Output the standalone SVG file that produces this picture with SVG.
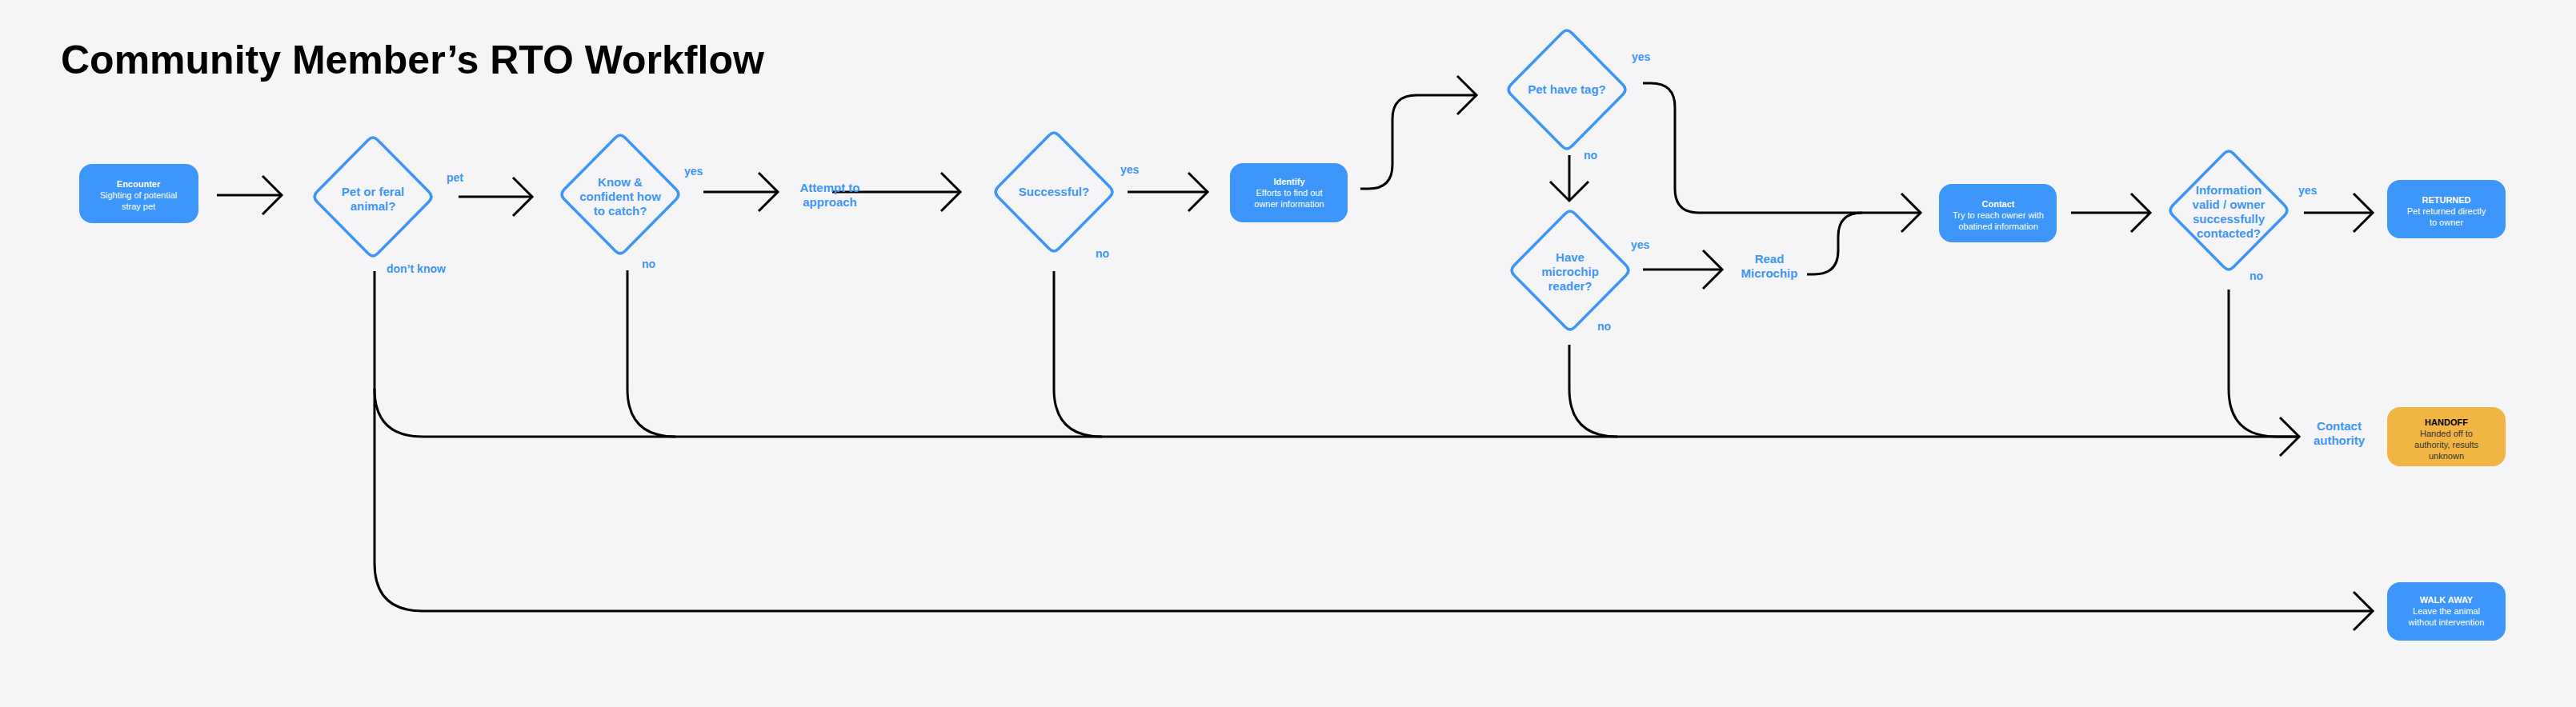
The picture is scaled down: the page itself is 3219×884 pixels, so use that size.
<svg xmlns="http://www.w3.org/2000/svg" width="3219" height="884" viewBox="0 0 3219 884">
<style>
.bg{fill:#f5f5f7}
.dia{fill:none;stroke:#3d95f7;stroke-width:3.5}
.box{fill:#3d96fa}
.hand{fill:#f0b542}
.c{fill:none;stroke:#000;stroke-width:3}
.dt{font-family:"Liberation Sans",Arial,sans-serif;font-weight:bold;font-size:15px;fill:#3d95f7;text-anchor:middle}
.lb{font-family:"Liberation Sans",Arial,sans-serif;font-weight:bold;font-size:14px;fill:#3d95f7}
.bt{font-family:"Liberation Sans",Arial,sans-serif;font-weight:bold;font-size:11px;fill:#fff;text-anchor:middle}
.bd{font-family:"Liberation Sans",Arial,sans-serif;font-size:11px;fill:#fff;text-anchor:middle}
.title{font-family:"Liberation Sans",Arial,sans-serif;font-weight:bold;font-size:50px;fill:#000}
</style>
<defs>
<path id="dm" d="M-6.1 -70.8 Q0 -77 6.1 -70.8 L69.9 -6.2 Q76 0 69.9 6.2 L6.1 70.8 Q0 77 -6.1 70.8 L-69.9 6.2 Q-76 0 -69.9 -6.2 Z"/>
<marker id="ch" markerUnits="userSpaceOnUse" viewBox="-28 -28 32 56" refX="0" refY="0" markerWidth="32" markerHeight="56" orient="auto">
<path d="M-24 -24 L0 0 L-24 24" fill="none" stroke="#000" stroke-width="3"/>
</marker>
</defs>
<rect class="bg" x="0" y="0" width="3219" height="884"/>
<text class="title" x="76" y="92">Community Member’s RTO Workflow</text>

<g id="connectors">
<path class="c" d="M271 244 H352" marker-end="url(#ch)"/>
<path class="c" d="M573 246 H665" marker-end="url(#ch)"/>
<path class="c" d="M879 240 H972" marker-end="url(#ch)"/>
<path class="c" d="M1040 240 H1200" marker-end="url(#ch)"/>
<path class="c" d="M1409 240 H1509" marker-end="url(#ch)"/>
<path class="c" d="M1700 236 H1710 Q1740 236 1740 206 V149 Q1740 119 1770 119 H1845" marker-end="url(#ch)"/>
<path class="c" d="M1961 194 V251" marker-end="url(#ch)"/>
<path class="c" d="M2053 337 H2152" marker-end="url(#ch)"/>
<path class="c" d="M2053 104 H2063 Q2093 104 2093 134 V236 Q2093 266 2123 266 H2400" marker-end="url(#ch)"/>
<path class="c" d="M2258 343 H2267 Q2297 343 2297 313 V296 Q2297 266 2327 266"/>
<path class="c" d="M2588 266 H2687" marker-end="url(#ch)"/>
<path class="c" d="M2879 266 H2965" marker-end="url(#ch)"/>
<path class="c" d="M468 339 V486 Q468 546 528 546 H2873" marker-end="url(#ch)"/>
<path class="c" d="M2785 362 V486 Q2785 546 2845 546 H2873"/>
<path class="c" d="M784 338 V486 Q784 546 844 546"/>
<path class="c" d="M1317 339 V486 Q1317 546 1377 546"/>
<path class="c" d="M1961 431 V486 Q1961 546 2021 546"/>
<path class="c" d="M468 486 V704 Q468 764 528 764 H2965" marker-end="url(#ch)"/>
</g>

<g id="encounter"><rect class="box" x="99" y="205" width="149" height="74" rx="16"/>
<text class="bt" x="173" y="234">Encounter</text><text class="bd" x="173" y="248">Sighting of potential</text><text class="bd" x="173" y="262">stray pet</text></g>

<g id="d-pet"><use href="#dm" class="dia" transform="translate(466,246)"/>
<text class="dt" x="466" y="245">Pet or feral</text><text class="dt" x="466" y="263">animal?</text></g>
<text class="lb" x="558" y="227">pet</text>
<text class="lb" x="483" y="341">don’t know</text>

<g id="d-know"><use href="#dm" class="dia" transform="translate(775,243)"/>
<text class="dt" x="775" y="233">Know &amp;</text><text class="dt" x="775" y="251">confident how</text><text class="dt" x="775" y="269">to catch?</text></g>
<text class="lb" x="855" y="219">yes</text>
<text class="lb" x="802" y="335">no</text>

<g id="attempt"><text class="dt" x="1037" y="240">Attempt to</text><text class="dt" x="1037" y="258">approach</text></g>

<g id="d-success"><use href="#dm" class="dia" transform="translate(1317,240)"/>
<text class="dt" x="1317" y="245">Successful?</text></g>
<text class="lb" x="1400" y="217">yes</text>
<text class="lb" x="1369" y="322">no</text>

<g id="identify"><rect class="box" x="1537" y="204" width="147" height="74" rx="16"/>
<text class="bt" x="1611" y="231">Identify</text><text class="bd" x="1611" y="245">Efforts to find out</text><text class="bd" x="1611" y="259">owner information</text></g>

<g id="d-tag"><use href="#dm" class="dia" transform="translate(1958,112)"/>
<text class="dt" x="1958" y="117">Pet have tag?</text></g>
<text class="lb" x="2039" y="76">yes</text>
<text class="lb" x="1979" y="199">no</text>

<g id="d-reader"><use href="#dm" class="dia" transform="translate(1962,338)"/>
<text class="dt" x="1962" y="327">Have</text><text class="dt" x="1962" y="345">microchip</text><text class="dt" x="1962" y="363">reader?</text></g>
<text class="lb" x="2038" y="311">yes</text>
<text class="lb" x="1996" y="413">no</text>

<g id="read"><text class="dt" x="2211" y="329">Read</text><text class="dt" x="2211" y="347">Microchip</text></g>

<g id="contact"><rect class="box" x="2423" y="230" width="147" height="73" rx="16"/>
<text class="bt" x="2497" y="259">Contact</text><text class="bd" x="2497" y="273">Try to reach owner with</text><text class="bd" x="2497" y="287">obatined information</text></g>

<g id="d-valid"><use href="#dm" class="dia" transform="translate(2785,263)"/>
<text class="dt" x="2785" y="243">Information</text><text class="dt" x="2785" y="261">valid / owner</text><text class="dt" x="2785" y="279">successfully</text><text class="dt" x="2785" y="297">contacted?</text></g>
<text class="lb" x="2872" y="243">yes</text>
<text class="lb" x="2811" y="350">no</text>

<g id="returned"><rect class="box" x="2983" y="225" width="148" height="73" rx="16"/>
<text class="bt" x="3057" y="254">RETURNED</text><text class="bd" x="3057" y="268">Pet returned directly</text><text class="bd" x="3057" y="282">to owner</text></g>

<g id="contact-authority"><text class="dt" x="2923" y="538">Contact</text><text class="dt" x="2923" y="556">authority</text></g>

<g id="handoff"><rect class="hand" x="2983" y="509" width="148" height="74" rx="16"/>
<text class="bt" x="3057" y="532" style="fill:#000">HANDOFF</text><text class="bd" x="3057" y="546" style="fill:#333">Handed off to</text><text class="bd" x="3057" y="560" style="fill:#333">authority, results</text><text class="bd" x="3057" y="574" style="fill:#333">unknown</text></g>

<g id="walkaway"><rect class="box" x="2983" y="728" width="148" height="73" rx="16"/>
<text class="bt" x="3057" y="754">WALK AWAY</text><text class="bd" x="3057" y="768">Leave the animal</text><text class="bd" x="3057" y="782">without intervention</text></g>
</svg>
